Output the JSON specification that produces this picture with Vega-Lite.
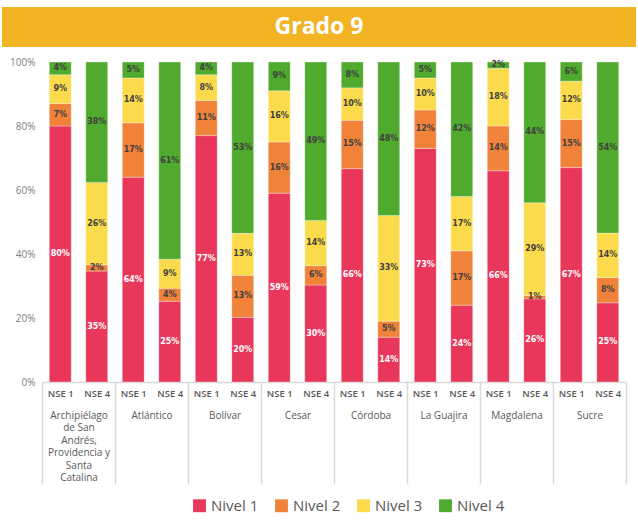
{
  "$schema": "https://vega.github.io/schema/vega-lite/v6.json",
  "padding": {"left": 2, "top": 7, "right": 2, "bottom": 0},
  "background": "white",
  "config": {"view": {"stroke": null}, "font": "Open Sans"},
  "spacing": 10,
  "vconcat": [
    {
      "width": 634,
      "height": 40,
      "view": {"fill": "#F2B324", "stroke": null},
      "data": {"values": [{"titulo": "Grado 9"}]},
      "mark": {"type": "text", "font": "Open Sans", "fontSize": 23, "fontWeight": "bold", "color": "white", "baseline": "middle", "align": "center"},
      "encoding": {"text": {"field": "titulo"}}
    },
    {
      "width": 624,
      "height": 320,
      "data": {"values": [
        {"dep": "Archipiélago de San Andrés, Providencia y Santa Catalina", "nse": "NSE 1", "clave": "ARC|NSE 1", "nivel": "Nivel 1", "valor": 0.80},
        {"dep": "Archipiélago de San Andrés, Providencia y Santa Catalina", "nse": "NSE 1", "clave": "ARC|NSE 1", "nivel": "Nivel 2", "valor": 0.07},
        {"dep": "Archipiélago de San Andrés, Providencia y Santa Catalina", "nse": "NSE 1", "clave": "ARC|NSE 1", "nivel": "Nivel 3", "valor": 0.09},
        {"dep": "Archipiélago de San Andrés, Providencia y Santa Catalina", "nse": "NSE 1", "clave": "ARC|NSE 1", "nivel": "Nivel 4", "valor": 0.04},
        {"dep": "Archipiélago de San Andrés, Providencia y Santa Catalina", "nse": "NSE 4", "clave": "ARC|NSE 4", "nivel": "Nivel 1", "valor": 0.35},
        {"dep": "Archipiélago de San Andrés, Providencia y Santa Catalina", "nse": "NSE 4", "clave": "ARC|NSE 4", "nivel": "Nivel 2", "valor": 0.02},
        {"dep": "Archipiélago de San Andrés, Providencia y Santa Catalina", "nse": "NSE 4", "clave": "ARC|NSE 4", "nivel": "Nivel 3", "valor": 0.26},
        {"dep": "Archipiélago de San Andrés, Providencia y Santa Catalina", "nse": "NSE 4", "clave": "ARC|NSE 4", "nivel": "Nivel 4", "valor": 0.38},
        {"dep": "Atlántico", "nse": "NSE 1", "clave": "ATL|NSE 1", "nivel": "Nivel 1", "valor": 0.64},
        {"dep": "Atlántico", "nse": "NSE 1", "clave": "ATL|NSE 1", "nivel": "Nivel 2", "valor": 0.17},
        {"dep": "Atlántico", "nse": "NSE 1", "clave": "ATL|NSE 1", "nivel": "Nivel 3", "valor": 0.14},
        {"dep": "Atlántico", "nse": "NSE 1", "clave": "ATL|NSE 1", "nivel": "Nivel 4", "valor": 0.05},
        {"dep": "Atlántico", "nse": "NSE 4", "clave": "ATL|NSE 4", "nivel": "Nivel 1", "valor": 0.25},
        {"dep": "Atlántico", "nse": "NSE 4", "clave": "ATL|NSE 4", "nivel": "Nivel 2", "valor": 0.04},
        {"dep": "Atlántico", "nse": "NSE 4", "clave": "ATL|NSE 4", "nivel": "Nivel 3", "valor": 0.09},
        {"dep": "Atlántico", "nse": "NSE 4", "clave": "ATL|NSE 4", "nivel": "Nivel 4", "valor": 0.61},
        {"dep": "Bolívar", "nse": "NSE 1", "clave": "BOL|NSE 1", "nivel": "Nivel 1", "valor": 0.77},
        {"dep": "Bolívar", "nse": "NSE 1", "clave": "BOL|NSE 1", "nivel": "Nivel 2", "valor": 0.11},
        {"dep": "Bolívar", "nse": "NSE 1", "clave": "BOL|NSE 1", "nivel": "Nivel 3", "valor": 0.08},
        {"dep": "Bolívar", "nse": "NSE 1", "clave": "BOL|NSE 1", "nivel": "Nivel 4", "valor": 0.04},
        {"dep": "Bolívar", "nse": "NSE 4", "clave": "BOL|NSE 4", "nivel": "Nivel 1", "valor": 0.20},
        {"dep": "Bolívar", "nse": "NSE 4", "clave": "BOL|NSE 4", "nivel": "Nivel 2", "valor": 0.13},
        {"dep": "Bolívar", "nse": "NSE 4", "clave": "BOL|NSE 4", "nivel": "Nivel 3", "valor": 0.13},
        {"dep": "Bolívar", "nse": "NSE 4", "clave": "BOL|NSE 4", "nivel": "Nivel 4", "valor": 0.53},
        {"dep": "Cesar", "nse": "NSE 1", "clave": "CES|NSE 1", "nivel": "Nivel 1", "valor": 0.59},
        {"dep": "Cesar", "nse": "NSE 1", "clave": "CES|NSE 1", "nivel": "Nivel 2", "valor": 0.16},
        {"dep": "Cesar", "nse": "NSE 1", "clave": "CES|NSE 1", "nivel": "Nivel 3", "valor": 0.16},
        {"dep": "Cesar", "nse": "NSE 1", "clave": "CES|NSE 1", "nivel": "Nivel 4", "valor": 0.09},
        {"dep": "Cesar", "nse": "NSE 4", "clave": "CES|NSE 4", "nivel": "Nivel 1", "valor": 0.30},
        {"dep": "Cesar", "nse": "NSE 4", "clave": "CES|NSE 4", "nivel": "Nivel 2", "valor": 0.06},
        {"dep": "Cesar", "nse": "NSE 4", "clave": "CES|NSE 4", "nivel": "Nivel 3", "valor": 0.14},
        {"dep": "Cesar", "nse": "NSE 4", "clave": "CES|NSE 4", "nivel": "Nivel 4", "valor": 0.49},
        {"dep": "Córdoba", "nse": "NSE 1", "clave": "COR|NSE 1", "nivel": "Nivel 1", "valor": 0.66},
        {"dep": "Córdoba", "nse": "NSE 1", "clave": "COR|NSE 1", "nivel": "Nivel 2", "valor": 0.15},
        {"dep": "Córdoba", "nse": "NSE 1", "clave": "COR|NSE 1", "nivel": "Nivel 3", "valor": 0.10},
        {"dep": "Córdoba", "nse": "NSE 1", "clave": "COR|NSE 1", "nivel": "Nivel 4", "valor": 0.08},
        {"dep": "Córdoba", "nse": "NSE 4", "clave": "COR|NSE 4", "nivel": "Nivel 1", "valor": 0.14},
        {"dep": "Córdoba", "nse": "NSE 4", "clave": "COR|NSE 4", "nivel": "Nivel 2", "valor": 0.05},
        {"dep": "Córdoba", "nse": "NSE 4", "clave": "COR|NSE 4", "nivel": "Nivel 3", "valor": 0.33},
        {"dep": "Córdoba", "nse": "NSE 4", "clave": "COR|NSE 4", "nivel": "Nivel 4", "valor": 0.48},
        {"dep": "La Guajira", "nse": "NSE 1", "clave": "LAG|NSE 1", "nivel": "Nivel 1", "valor": 0.73},
        {"dep": "La Guajira", "nse": "NSE 1", "clave": "LAG|NSE 1", "nivel": "Nivel 2", "valor": 0.12},
        {"dep": "La Guajira", "nse": "NSE 1", "clave": "LAG|NSE 1", "nivel": "Nivel 3", "valor": 0.10},
        {"dep": "La Guajira", "nse": "NSE 1", "clave": "LAG|NSE 1", "nivel": "Nivel 4", "valor": 0.05},
        {"dep": "La Guajira", "nse": "NSE 4", "clave": "LAG|NSE 4", "nivel": "Nivel 1", "valor": 0.24},
        {"dep": "La Guajira", "nse": "NSE 4", "clave": "LAG|NSE 4", "nivel": "Nivel 2", "valor": 0.17},
        {"dep": "La Guajira", "nse": "NSE 4", "clave": "LAG|NSE 4", "nivel": "Nivel 3", "valor": 0.17},
        {"dep": "La Guajira", "nse": "NSE 4", "clave": "LAG|NSE 4", "nivel": "Nivel 4", "valor": 0.42},
        {"dep": "Magdalena", "nse": "NSE 1", "clave": "MAG|NSE 1", "nivel": "Nivel 1", "valor": 0.66},
        {"dep": "Magdalena", "nse": "NSE 1", "clave": "MAG|NSE 1", "nivel": "Nivel 2", "valor": 0.14},
        {"dep": "Magdalena", "nse": "NSE 1", "clave": "MAG|NSE 1", "nivel": "Nivel 3", "valor": 0.18},
        {"dep": "Magdalena", "nse": "NSE 1", "clave": "MAG|NSE 1", "nivel": "Nivel 4", "valor": 0.02},
        {"dep": "Magdalena", "nse": "NSE 4", "clave": "MAG|NSE 4", "nivel": "Nivel 1", "valor": 0.26},
        {"dep": "Magdalena", "nse": "NSE 4", "clave": "MAG|NSE 4", "nivel": "Nivel 2", "valor": 0.01},
        {"dep": "Magdalena", "nse": "NSE 4", "clave": "MAG|NSE 4", "nivel": "Nivel 3", "valor": 0.29},
        {"dep": "Magdalena", "nse": "NSE 4", "clave": "MAG|NSE 4", "nivel": "Nivel 4", "valor": 0.44},
        {"dep": "Sucre", "nse": "NSE 1", "clave": "SUC|NSE 1", "nivel": "Nivel 1", "valor": 0.67},
        {"dep": "Sucre", "nse": "NSE 1", "clave": "SUC|NSE 1", "nivel": "Nivel 2", "valor": 0.15},
        {"dep": "Sucre", "nse": "NSE 1", "clave": "SUC|NSE 1", "nivel": "Nivel 3", "valor": 0.12},
        {"dep": "Sucre", "nse": "NSE 1", "clave": "SUC|NSE 1", "nivel": "Nivel 4", "valor": 0.06},
        {"dep": "Sucre", "nse": "NSE 4", "clave": "SUC|NSE 4", "nivel": "Nivel 1", "valor": 0.25},
        {"dep": "Sucre", "nse": "NSE 4", "clave": "SUC|NSE 4", "nivel": "Nivel 2", "valor": 0.08},
        {"dep": "Sucre", "nse": "NSE 4", "clave": "SUC|NSE 4", "nivel": "Nivel 3", "valor": 0.14},
        {"dep": "Sucre", "nse": "NSE 4", "clave": "SUC|NSE 4", "nivel": "Nivel 4", "valor": 0.54}
      ]},
      "layer": [
        {
          "mark": {"type": "bar", "stroke": "white", "strokeWidth": 0.6, "strokeOpacity": 0.5},
          "encoding": {
            "x": {
              "field": "dep", "type": "nominal",
              "sort": ["Archipiélago de San Andrés, Providencia y Santa Catalina", "Atlántico", "Bolívar", "Cesar", "Córdoba", "La Guajira", "Magdalena", "Sucre"],
              "scale": {"paddingInner": 0, "paddingOuter": 0, "range": [40, 624]},
              "axis": {
                "orient": "bottom", "title": null, "labelAngle": 0,
                "domain": true, "domainColor": "#d9d9d9", "domainWidth": 1.5,
                "ticks": true, "tickBand": "extent", "tickSize": 102, "tickColor": "#d9d9d9", "tickWidth": 1.5,
                "labelPadding": -74, "labelFontSize": 10, "labelColor": "#595959", "labelLineHeight": 12.5,
                "labelBaseline": "top", "labelLimit": 0, "labelFont": "Open Sans",
                "labelExpr": "datum.value == 'Archipiélago de San Andrés, Providencia y Santa Catalina' ? ['Archipiélago', 'de San', 'Andrés,', 'Providencia y', 'Santa', 'Catalina'] : datum.label"
              }
            },
            "xOffset": {"field": "nse", "type": "nominal", "scale": {"paddingInner": 0.4, "paddingOuter": 0.2}},
            "y": {
              "field": "valor", "type": "quantitative", "stack": "normalize",
              "scale": {"domain": [0, 1]},
              "axis": {"title": null, "format": ".0%", "values": [0, 0.2, 0.4, 0.6, 0.8, 1], "grid": false, "domain": false, "ticks": false, "labelColor": "#808080", "labelFontSize": 10, "labelPadding": 7, "labelFont": "Open Sans", "offset": -40}
            },
            "color": {
              "field": "nivel", "type": "nominal",
              "scale": {"domain": ["Nivel 1", "Nivel 2", "Nivel 3", "Nivel 4"], "range": ["#E8375A", "#F0823A", "#FBDB4B", "#50AA2E"]},
              "legend": {"orient": "none", "legendX": 190, "legendY": 491, "padding": 0, "direction": "horizontal", "title": null, "symbolType": "square", "symbolSize": 165, "symbolStrokeWidth": 0, "symbolOpacity": 1, "labelFontSize": 15, "labelColor": "#595959", "labelFont": "Open Sans", "labelOffset": 4, "columnPadding": 15}
            },
            "order": {"field": "nivel", "type": "ordinal", "sort": "ascending"}
          }
        },
        {
          "mark": {"type": "text", "font": "DejaVu Sans", "fontSize": 8, "fontWeight": "bold"},
          "encoding": {
            "x": {
              "field": "clave", "type": "nominal",
              "scale": {"paddingInner": 0, "paddingOuter": 0, "range": [40, 624]},
              "axis": {"orient": "bottom", "title": null, "labelAngle": 0, "domain": false, "ticks": false, "labelPadding": 6, "labelExpr": "split(datum.label, '|')[1]", "labelFontSize": 9.5, "labelFontWeight": 600, "labelColor": "#595959", "labelFont": "Open Sans"}
            },
            "y": {"field": "valor", "type": "quantitative", "stack": "normalize", "bandPosition": 0.5,
              "axis": {"title": null, "format": ".0%", "values": [0, 0.2, 0.4, 0.6, 0.8, 1], "grid": false, "domain": false, "ticks": false, "labelColor": "#808080", "labelFontSize": 10, "labelPadding": 7, "labelFont": "Open Sans", "offset": -40}},
            "text": {"field": "valor", "type": "quantitative", "format": ".0%"},
            "detail": {"field": "nivel"},
            "color": {"condition": {"test": "datum.nivel == 'Nivel 1'", "value": "white"}, "value": "#404040"},
            "order": {"field": "nivel", "type": "ordinal", "sort": "ascending"}
          }
        }
      ],
      "resolve": {"scale": {"x": "independent"}, "axis": {"x": "independent"}}
    }
  ]
}
